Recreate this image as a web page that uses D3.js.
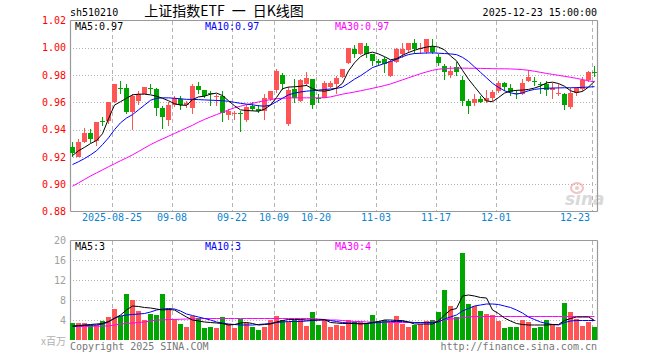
<!DOCTYPE html>
<html>
<head>
<meta charset="utf-8">
<title>sh510210 日K线图</title>
<script src="https://d3js.org/d3.v7.min.js"></script>
<style>
  body { margin: 0; background: #fff; }
  svg text { font-family: "DejaVu Sans Mono", "Liberation Mono", monospace; font-size: 10px; }
</style>
</head>
<body>
<div id="chart"></div>
<script>
// trading days shown
const dates = [
  "2025-08-14","2025-08-15","2025-08-18","2025-08-19","2025-08-20","2025-08-21","2025-08-22","2025-08-25","2025-08-26","2025-08-27","2025-08-28","2025-08-29",
  "2025-09-01","2025-09-02","2025-09-03","2025-09-04","2025-09-05","2025-09-08","2025-09-09","2025-09-10","2025-09-11","2025-09-12","2025-09-15","2025-09-16","2025-09-17","2025-09-18","2025-09-19","2025-09-22","2025-09-23","2025-09-24","2025-09-25","2025-09-26","2025-09-29","2025-09-30",
  "2025-10-09","2025-10-10","2025-10-13","2025-10-14","2025-10-15","2025-10-16","2025-10-17","2025-10-20","2025-10-21","2025-10-22","2025-10-23","2025-10-24","2025-10-27","2025-10-28","2025-10-29","2025-10-30","2025-10-31",
  "2025-11-03","2025-11-04","2025-11-05","2025-11-06","2025-11-07","2025-11-10","2025-11-11","2025-11-12","2025-11-13","2025-11-14","2025-11-17","2025-11-18","2025-11-19","2025-11-20","2025-11-21","2025-11-24","2025-11-25","2025-11-26","2025-11-27","2025-11-28",
  "2025-12-01","2025-12-02","2025-12-03","2025-12-04","2025-12-05","2025-12-08","2025-12-09","2025-12-10","2025-12-11","2025-12-12","2025-12-15","2025-12-16","2025-12-17","2025-12-18","2025-12-19","2025-12-22","2025-12-23"
];

const open = [
  .9274,.9200,.9311,.9377,.9316,.9462,.9462,.9601,.9706,.9707,
  .9528,.9609,.9663,.9706,.9699,.9555,.9469,.9584,.9626,.9577,
  .9555,.9719,.9687,.9672,.9641,.9650,.9504,.9511,.9525,.9474,
  .9572,.9548,.9535,.9621,.9694,.9797,.9438,.9699,.9609,.9731,
  .9768,.9633,.9633,.9714,.9731,.9787,.9890,.9988,.9958,1.0012,
  .9951,.9902,.9919,.9792,.9895,.9951,.9983,1.0037,.9988,.9968,
  1.0007,.9934,.9870,.9797,.9861,.9763,.9609,.9592,.9626,.9609,
  .9633,.9682,.9743,.9707,.9672,.9658,.9755,.9758,.9738,.9738,
  .9689,.9665,.9658,.9567,.9665,.9699,.9763,.9819
];
const high = [
  .9308,.9328,.9413,.9406,.9457,.9494,.9601,.9738,.9755,.9738,
  .9658,.9682,.9716,.9738,.9707,.9572,.9601,.9650,.9650,.9609,
  .9738,.9748,.9694,.9682,.9658,.9682,.9548,.9535,.9535,.9584,
  .9601,.9577,.9658,.9682,.9841,.9817,.9714,.9768,.9768,.9822,
  .9773,.9658,.9755,.9755,.9792,.9846,1.0000,1.0017,1.0037,1.0037,
  .9958,.9919,.9934,.9910,1.0000,1.0032,1.0037,1.0061,1.0032,1.0066,
  1.0066,.9951,.9878,.9866,.9895,.9792,.9626,.9663,.9650,.9687,
  .9687,.9755,.9748,.9731,.9694,.9768,.9836,.9787,.9748,.9755,
  .9743,.9738,.9670,.9707,.9714,.9785,.9829,.9870
];
const low = [
  .9200,.9196,.9303,.9303,.9279,.9425,.9443,.9592,.9658,.9511,
  .9396,.9584,.9658,.9658,.9499,.9406,.9425,.9567,.9543,.9560,
  .9518,.9658,.9633,.9572,.9572,.9455,.9474,.9469,.9381,.9455,
  .9535,.9523,.9469,.9609,.9670,.9694,.9430,.9597,.9601,.9719,
  .9548,.9592,.9633,.9707,.9658,.9780,.9878,.9927,.9944,.9927,
  .9870,.9870,.9817,.9785,.9890,.9927,.9963,.9951,.9951,.9958,
  .9951,.9866,.9763,.9780,.9792,.9572,.9511,.9572,.9592,.9597,
  .9609,.9670,.9682,.9645,.9628,.9653,.9751,.9719,.9658,.9645,
  .9626,.9645,.9543,.9548,.9645,.9682,.9748,.9787
];
const close = [
  .9230,.9313,.9377,.9333,.9457,.9457,.9601,.9738,.9704,.9528,
  .9650,.9663,.9716,.9702,.9560,.9494,.9584,.9633,.9584,.9592,
  .9719,.9690,.9650,.9668,.9650,.9523,.9535,.9523,.9521,.9567,
  .9553,.9535,.9633,.9682,.9829,.9738,.9689,.9633,.9763,.9780,
  .9584,.9628,.9743,.9743,.9780,.9841,1.0000,.9958,1.0032,.9958,
  .9902,.9892,.9878,.9902,.9988,.9988,1.0037,.9993,1.0000,1.0061,
  .9968,.9890,.9822,.9829,.9822,.9609,.9572,.9626,.9601,.9633,
  .9677,.9743,.9714,.9675,.9668,.9743,.9787,.9754,.9734,.9689,
  .9707,.9670,.9584,.9670,.9707,.9763,.9822,.9815
];

// price moving averages
const ma5 = [
  .9210,.9245,.9270,.9298,.9320,.9370,.9480,.9580,.9605,.9630,
  .9655,.9660,.9660,.9655,.9645,.9630,.9612,.9590,.9580,.9578,
  .9620,.9640,.9645,.9660,.9668,.9650,.9612,.9575,.9545,.9540,
  .9538,.9535,.9550,.9580,.9635,.9700,.9712,.9714,.9718,.9724,
  .9700,.9685,.9682,.9690,.9705,.9740,.9830,.9890,.9935,.9958,
  .9968,.9955,.9935,.9912,.9920,.9945,.9965,.9982,.9995,1.0005,
  1.0012,1.0005,.9985,.9940,.9905,.9835,.9770,.9715,.9660,.9610,
  .9605,.9635,.9668,.9683,.9688,.9690,.9695,.9705,.9720,.9743,
  .9748,.9738,.9718,.9685,.9672,.9680,.9712,.9755
];
const ma10 = [
  .9144,.9165,.9188,.9215,.9245,.9290,.9340,.9400,.9450,.9485,
  .9510,.9545,.9580,.9615,.9630,.9633,.9633,.9630,.9626,.9622,
  .9622,.9620,.9618,.9616,.9614,.9612,.9608,.9600,.9593,.9587,
  .9582,.9575,.9572,.9580,.9605,.9630,.9655,.9668,.9676,.9682,
  .9686,.9690,.9694,.9698,.9702,.9712,.9740,.9770,.9795,.9825,
  .9855,.9870,.9885,.9900,.9915,.9935,.9950,.9958,.9960,.9962,
  .9963,.9960,.9958,.9955,.9950,.9930,.9900,.9860,.9820,.9780,
  .9740,.9710,.9685,.9670,.9660,.9670,.9685,.9695,.9700,.9703,
  .9705,.9706,.9707,.9707,.9708,.9710,.9712,.9715
];
const ma30 = [
  .8985,.9010,.9035,.9060,.9083,.9105,.9128,.9150,.9172,.9193,
  .9215,.9240,.9265,.9290,.9312,.9332,.9352,.9372,.9392,.9412,
  .9432,.9455,.9475,.9493,.9510,.9527,.9545,.9560,.9572,.9583,
  .9593,.9603,.9612,.9620,.9627,.9630,.9632,.9633,.9633,.9633,
  .9633,.9633,.9634,.9640,.9650,.9660,.9668,.9676,.9685,.9694,
  .9703,.9713,.9723,.9735,.9750,.9765,.9780,.9795,.9810,.9823,
  .9835,.9843,.9848,.9850,.9851,.9851,.9850,.9850,.9849,.9848,
  .9847,.9846,.9846,.9845,.9843,.9840,.9835,.9828,.9820,.9812,
  .9805,.9798,.9791,.9784,.9776,.9767,.9758,.9750
];

// volume, millions
const volume = [
  3.5,3.4,3.4,3.1,3.0,3.8,4.7,6.3,4.8,9.2,
  8.0,5.8,4.0,5.3,5.0,9.2,6.3,4.2,3.2,2.7,
  4.9,4.5,2.5,2.7,2.5,4.6,3.2,2.5,4.3,3.5,
  2.7,2.0,2.7,4.0,4.8,4.0,3.6,4.1,4.3,2.8,
  5.6,3.0,4.1,2.7,3.1,2.8,4.0,3.6,3.6,3.5,
  5.0,3.9,4.0,3.7,4.8,3.2,2.7,3.0,3.3,3.9,
  4.0,5.6,10.0,6.8,4.7,17.4,7.2,6.8,5.8,5.2,
  5.0,3.9,2.5,2.7,2.7,4.0,3.6,2.5,2.7,4.0,
  3.3,2.7,7.5,5.6,4.3,2.8,3.7,2.7
];
const vma5 = [
  2.8,2.9,3.0,3.1,3.2,3.3,3.7,4.3,5.0,6.0,
  6.8,6.7,6.5,6.4,6.2,6.0,6.1,6.0,5.3,4.6,
  4.0,3.8,3.6,3.5,3.4,3.3,3.0,3.1,3.4,3.5,
  3.3,3.0,3.1,3.2,3.6,3.9,4.1,4.1,4.1,4.0,
  4.0,4.0,4.1,3.5,3.4,3.3,3.3,3.3,3.2,3.3,
  3.5,3.7,4.0,4.0,3.9,3.9,3.6,3.2,3.2,3.2,
  3.2,3.8,5.0,6.0,6.3,8.8,9.0,8.8,8.5,8.4,
  6.0,5.3,4.4,3.8,3.3,3.1,3.0,3.0,3.0,3.0,
  3.1,3.1,3.9,4.3,4.6,4.6,4.6,3.9
];
const vma10 = [
  2.7,2.8,2.9,2.95,3.0,3.2,3.6,4.4,4.8,5.0,
  5.1,5.2,5.3,5.6,6.0,6.2,6.3,6.2,5.8,5.2,
  4.9,4.6,4.3,4.0,3.6,3.4,3.2,3.1,3.0,3.0,
  3.0,3.1,3.2,3.3,3.5,3.6,3.7,3.7,3.7,3.8,
  3.9,4.0,4.0,3.9,3.7,3.5,3.4,3.4,3.3,3.3,
  3.4,3.5,3.6,3.7,3.7,3.7,3.6,3.5,3.5,3.5,
  3.5,3.6,4.2,4.6,5.0,5.8,6.3,6.8,7.0,7.2,
  7.2,7.1,6.8,6.5,6.0,5.4,4.6,4.1,3.6,3.3,
  3.1,3.0,3.5,3.8,3.9,3.9,3.9,3.9
];
const vma30 = [
  2.7,2.7,2.7,2.75,2.75,2.8,2.8,3.0,3.2,3.3,
  3.4,3.5,3.6,3.8,4.0,4.0,4.1,4.1,4.15,4.2,
  4.2,4.25,4.3,4.3,4.3,4.3,4.3,4.3,4.3,4.3,
  4.3,4.3,4.3,4.3,4.3,4.3,4.3,4.3,4.3,4.3,
  4.3,4.2,4.1,4.0,4.0,3.9,3.8,3.7,3.7,3.6,
  3.6,3.6,3.55,3.5,3.5,3.5,3.5,3.5,3.5,3.5,
  3.6,3.8,4.0,4.2,4.3,4.5,4.6,4.7,4.7,4.7,
  4.7,4.7,4.7,4.7,4.7,4.7,4.7,4.7,4.7,4.7,
  4.7,4.7,4.7,4.7,4.7,4.7,4.7,4.7
];

const priceTicks = [0.88, 0.90, 0.92, 0.94, 0.96, 0.98, 1.00, 1.02];
const volTicks = [4, 8, 12, 16, 20];
const xTickDates = ["2025-08-25","2025-09-08","2025-09-22","2025-10-09","2025-10-20","2025-11-03","2025-11-17","2025-12-01","2025-12-23"];
const xTickLabels = ["2025-08-25","09-08","09-22","10-09","10-20","11-03","11-17","12-01","12-23"];
const priceLegend = ["MA5:0.97", "MA10:0.97", "MA30:0.97"];
const volLegend = ["MA5:3", "MA10:3", "MA30:4"];

const W = 660, H = 360;
const left = 70, right = 598;
const red = "#ff5555", green = "#00a600", grid = "#b4b4b4", frame = "#999";

const svg = d3.select("#chart").append("svg")
    .attr("width", W).attr("height", H);

const x = d3.scaleBand().domain(dates).range([left, right]);
const y = d3.scaleLinear().domain([0.88, 1.02]).range([211.5, 20.5]);
const yv = d3.scaleLinear().domain([0, 20]).range([340, 240]);

const isUp = i => close[i] >= open[i];

// header
svg.append("text").attr("x", 70).attr("y", 16).text("sh510210");
svg.append("text").attr("x", 224).attr("y", 16).attr("text-anchor", "middle")
    .style("font-family", "'Noto Sans CJK SC', sans-serif").style("font-size", "14px")
    .style("white-space", "pre")
    .text("上证指数ETF\u2002一\u2002日K线图");
svg.append("text").attr("x", 597).attr("y", 16).attr("text-anchor", "end")
    .text("2025-12-23 15:00:00");

// horizontal grid
svg.selectAll(".hgrid").data(priceTicks.slice(1, -1)).enter().append("line")
    .attr("x1", left).attr("x2", right)
    .attr("y1", d => Math.round(y(d)) + 0.5).attr("y2", d => Math.round(y(d)) + 0.5)
    .attr("stroke", grid).attr("stroke-dasharray", "1,2");
svg.selectAll(".vhgrid").data(volTicks.slice(0, -1)).enter().append("line")
    .attr("x1", left).attr("x2", right)
    .attr("y1", d => yv(d) + 0.5).attr("y2", d => yv(d) + 0.5)
    .attr("stroke", grid).attr("stroke-dasharray", "1,2");

// vertical dashed grid at labelled days
xTickDates.forEach(d => {
    const gx = x(d) + 0.5;
    svg.append("line").attr("x1", gx).attr("x2", gx).attr("y1", 21).attr("y2", 211)
        .attr("stroke", grid).attr("stroke-dasharray", "4,3");
    svg.append("line").attr("x1", gx).attr("x2", gx).attr("y1", 241).attr("y2", 340)
        .attr("stroke", grid).attr("stroke-dasharray", "4,3");
});

// sina watermark
const wm = svg.append("g").attr("opacity", 0.55);
wm.append("ellipse").attr("cx", 577).attr("cy", 188).attr("rx", 6).attr("ry", 5)
    .attr("fill", "none").attr("stroke", "#f08a8a").attr("stroke-width", 2);
wm.append("circle").attr("cx", 577).attr("cy", 188).attr("r", 2).attr("fill", "#d9a0a0");
wm.append("text").attr("x", 565).attr("y", 205)
    .style("font-family", "'DejaVu Sans', sans-serif").style("font-size", "17px")
    .style("font-weight", "bold").style("font-style", "italic")
    .attr("fill", "#bbb").text("sina");

// frames
const frameLines = [
    [left + 0.5, 20.5, right - 0.5, 20.5],
    [left + 0.5, 211.5, right - 0.5, 211.5],
    [left + 0.5, 20.5, left + 0.5, 211.5],
    [right - 0.5, 20.5, right - 0.5, 211.5],
    [left + 0.5, 240.5, right - 0.5, 240.5],
    [left + 0.5, 240.5, left + 0.5, 340],
    [right - 0.5, 240.5, right - 0.5, 340]
];
svg.selectAll(".frame").data(frameLines).enter().append("line")
    .attr("x1", d => d[0]).attr("y1", d => d[1]).attr("x2", d => d[2]).attr("y2", d => d[3])
    .attr("stroke", frame).attr("stroke-width", 1.2);

// price axis
const yAxis = svg.append("g").attr("transform", "translate(" + left + ",0)")
    .call(d3.axisLeft(y).tickValues(priceTicks).tickSize(0).tickPadding(4).tickFormat(d3.format(".2f")));
yAxis.select(".domain").remove();
yAxis.selectAll("text").attr("fill", "#f00").style("font-family", "'DejaVu Sans Mono', monospace").style("font-size", "10px");

// date axis
const xAxis = svg.append("g").attr("transform", "translate(" + (-x.bandwidth() / 2) + ",214)")
    .call(d3.axisBottom(x).tickValues(xTickDates).tickSize(0).tickPadding(0)
        .tickFormat((d, i) => xTickLabels[i]));
xAxis.select(".domain").remove();
xAxis.selectAll("text").attr("fill", "#0a84d0").style("font-family", "'DejaVu Sans Mono', monospace").style("font-size", "10px");
// keep the last label inside the frame
xAxis.selectAll(".tick").filter(d => d === xTickDates[xTickDates.length - 1])
    .select("text").attr("text-anchor", "end").attr("dx", -2);

// volume axis
const vAxis = svg.append("g").attr("transform", "translate(" + left + ",0)")
    .call(d3.axisLeft(yv).tickValues(volTicks).tickSize(0).tickPadding(4));
vAxis.select(".domain").remove();
vAxis.selectAll("text").attr("fill", "#a0a0a0").style("font-family", "'DejaVu Sans Mono', monospace").style("font-size", "10px");
svg.append("text").attr("x", 66).attr("y", 345).attr("text-anchor", "end")
    .attr("fill", "#b0b0b0").style("font-family", "'Noto Sans CJK SC', sans-serif").style("font-size", "10px")
    .text("x百万");

// candles
const candles = svg.append("g").attr("shape-rendering", "crispEdges");
candles.selectAll("line").data(dates).enter().append("line")
    .attr("x1", d => x(d) + 2.5).attr("x2", d => x(d) + 2.5)
    .attr("y1", (d, i) => y(high[i])).attr("y2", (d, i) => y(low[i]))
    .attr("stroke", (d, i) => isUp(i) ? red : green);
candles.selectAll("rect").data(dates).enter().append("rect")
    .attr("x", d => x(d)).attr("width", x.bandwidth() - 1)
    .attr("y", (d, i) => y(Math.max(open[i], close[i])))
    .attr("height", (d, i) => Math.max(1, Math.abs(y(open[i]) - y(close[i]))))
    .attr("fill", (d, i) => isUp(i) ? red : green);

// volume bars
svg.append("g").attr("shape-rendering", "crispEdges")
    .selectAll("rect").data(volume).enter().append("rect")
    .attr("x", (d, i) => x(dates[i])).attr("width", x.bandwidth() - 1)
    .attr("y", d => yv(d)).attr("height", d => yv(0) - yv(d))
    .attr("fill", (d, i) => isUp(i) ? red : green);

// moving average lines
function maLine(values, scale, color) {
    const line = d3.line()
        .x((d, i) => x(dates[i]) + 2.5)
        .y(d => scale(d));
    svg.append("path").datum(values)
        .attr("d", line).attr("fill", "none")
        .attr("stroke", color).attr("stroke-width", 1);
}
maLine(ma30, y, "#ff00ff");
maLine(ma10, y, "#0000ff");
maLine(ma5, y, "#000");
maLine(vma30, yv, "#ff00ff");
maLine(vma10, yv, "#0000ff");
maLine(vma5, yv, "#000");

// legends
const legendColors = ["#000", "#0000ff", "#ff00ff"];
const legendX = [75, 205, 335];
priceLegend.forEach((t, i) => {
    svg.append("text").attr("x", legendX[i]).attr("y", 30).attr("fill", legendColors[i]).text(t);
});
volLegend.forEach((t, i) => {
    svg.append("text").attr("x", legendX[i]).attr("y", 250).attr("fill", legendColors[i]).text(t);
});

// footer
svg.append("text").attr("x", 70).attr("y", 350).attr("fill", "#777").text("Copyright 2025 SINA.COM");
svg.append("text").attr("x", 597).attr("y", 350).attr("text-anchor", "end").attr("fill", "#777")
    .text("http://finance.sina.com.cn");
</script>
</body>
</html>
